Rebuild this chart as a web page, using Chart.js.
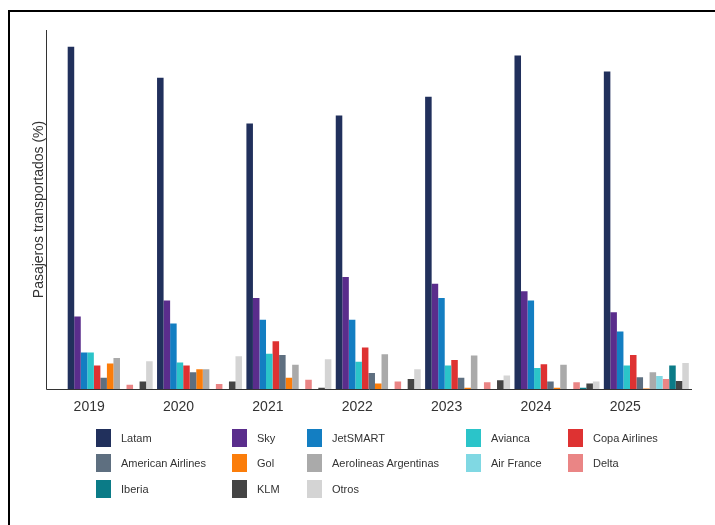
<!DOCTYPE html>
<html><head><meta charset="utf-8">
<script src="https://cdn.jsdelivr.net/npm/chart.js@4.4.1/dist/chart.umd.min.js"></script>
<style>
html,body{margin:0;padding:0;background:#fff;}
#wrap{position:relative;width:715px;height:525px;overflow:hidden;font-family:"Liberation Sans",Arial,sans-serif;background:#fff;}
#frame{position:absolute;left:8px;top:10px;width:800px;height:600px;border-left:2px solid #000;border-top:2px solid #000;}
canvas{position:absolute;left:0;top:0;}
.item{position:absolute;height:18px;display:flex;align-items:center;font-size:11px;color:#333;white-space:nowrap;}
.box{width:15px;height:18px;margin-right:10px;flex:none;}
</style></head><body>
<div id="wrap"><div id="frame"></div><canvas id="c" width="715" height="525"></canvas><div id="legend"></div></div>
<script>
const years = ['2019','2020','2021','2022','2023','2024','2025'];
const seriesNames = ['Latam','Sky','JetSMART','Avianca','Copa Airlines','American Airlines','Gol','Aerolineas Argentinas','Air France','Delta','Iberia','KLM','Otros'];
const latam      = [55.3, 50.3, 42.9, 44.2, 47.2, 53.9, 51.3];
const sky        = [11.7, 14.3, 14.7, 18.1, 17.0, 15.8, 12.4];
const jetsmart   = [5.9, 10.6, 11.2, 11.2, 14.7, 14.3, 9.3];
const avianca    = [5.9, 4.3, 5.7, 4.4, 3.8, 3.4, 3.8];
const copa       = [3.8, 3.8, 7.7, 6.7, 4.7, 4.0, 5.5];
const american   = [1.8, 2.7, 5.5, 2.6, 1.8, 1.2, 1.9];
const gol        = [4.1, 3.2, 1.8, 0.9, 0.2, 0.2, 0.1];
const aerolineas = [5.0, 3.2, 3.9, 5.6, 5.4, 3.9, 2.7];
const airfrance  = [0, 0, 0, 0, 0, 0, 2.1];
const delta      = [0.7, 0.8, 1.5, 1.2, 1.1, 1.1, 1.6];
const iberia     = [0, 0, 0, 0, 0, 0.2, 3.8];
const klm        = [1.2, 1.2, 0.2, 1.6, 1.4, 0.9, 1.3];
const otros      = [4.5, 5.3, 4.8, 3.2, 2.2, 1.2, 4.2];
const seriesData = [latam, sky, jetsmart, avianca, copa, american, gol, aerolineas, airfrance, delta, iberia, klm, otros];
const seriesColors = ['#21305c','#5a2d8c','#137ec2','#2bc4c9','#de3232','#5e6f80','#fb7d0a','#aaaaaa','#80d8e3','#ea8585','#0b7b87','#444444','#d4d4d4'];

const FONT = '"Liberation Sans", Arial, sans-serif';

const axisLines = {
  id: 'axisLines',
  afterDatasetsDraw(chart) {
    const {ctx, chartArea} = chart;
    ctx.save();
    ctx.strokeStyle = '#333';
    ctx.lineWidth = 1;
    ctx.beginPath();
    ctx.moveTo(46.5, chartArea.top);
    ctx.lineTo(46.5, chartArea.bottom + 0.5);
    ctx.lineTo(692, chartArea.bottom + 0.5);
    ctx.stroke();
    ctx.restore();
  }
};

const chart = new Chart(document.getElementById('c'), {
  type: 'bar',
  data: {
    labels: years,
    datasets: seriesNames.map((n, i) => ({
      label: n, data: seriesData[i], backgroundColor: seriesColors[i], borderWidth: 0
    }))
  },
  options: {
    responsive: false,
    animation: false,
    layout: {padding: {top: 30, right: 24, bottom: 106, left: 0}},
    plugins: {legend: {display: false}, tooltip: {enabled: false}},
    datasets: {bar: {categoryPercentage: 0.951, barPercentage: 1}},
    scales: {
      x: {
        grid: {display: false, drawTicks: false},
        border: {display: false},
        ticks: {padding: 10, labelOffset: -21, color: '#333', font: {size: 14, family: FONT}},
        afterFit(s) { s.height = 30; }
      },
      y: {
        min: 0, max: 58,
        ticks: {display: false},
        grid: {display: false, drawTicks: false},
        border: {display: false},
        title: {display: true, text: 'Pasajeros transportados (%)', color: '#333', font: {size: 14, family: FONT}, padding: {top: 31, bottom: 0}},
        afterFit(s) { s.width = 65.5; }
      }
    }
  },
  plugins: [axisLines]
});

// HTML legend in a 5-column grid
const colX = [96, 232, 307, 466, 568];
const rowY = [429, 454, 480];
const leg = document.getElementById('legend');
seriesNames.forEach((n, i) => {
  const d = document.createElement('div');
  d.className = 'item';
  d.style.left = colX[i % 5] + 'px';
  d.style.top = rowY[Math.floor(i / 5)] + 'px';
  const b = document.createElement('span');
  b.className = 'box';
  b.style.background = seriesColors[i];
  const t = document.createElement('span');
  t.textContent = n;
  d.appendChild(b); d.appendChild(t);
  leg.appendChild(d);
});
</script>
</body></html>
